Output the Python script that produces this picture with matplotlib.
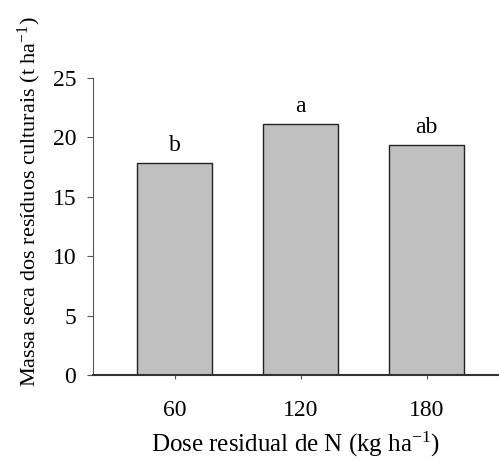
import matplotlib
matplotlib.use("Agg")
import matplotlib.pyplot as plt

## residual N dose vs dry mass of crop residues
doses = ["60", "120", "180"]
massa = [17.85, 21.12, 19.34]
letras = ["b", "a", "ab"]

plt.rcParams['font.family'] = 'Liberation Serif'
plt.rcParams['mathtext.fontset'] = 'custom'
plt.rcParams['mathtext.rm'] = 'Liberation Serif'
plt.rcParams['mathtext.it'] = 'Liberation Serif'

fs = 17

fig = plt.figure(figsize=(4.99, 4.61), dpi=100)
ax = fig.add_axes([0.1864, 0.1855, 0.8136, 0.646])

pos = list(range(len(doses)))
bars = ax.bar(pos, massa, width=0.595, color="#c0c0c0",
              edgecolor="#222222", linewidth=1.0)

for x, v, l in zip(pos, massa, letras):
    ax.annotate(l, (x, v), xytext=(0, 5), textcoords="offset points",
                ha="center", va="bottom", fontsize=fs)

ax.set_xlim(-0.648, 2.574)
ax.set_ylim(0, 25)
ax.set_yticks([0, 5, 10, 15, 20, 25])
ax.set_xticks(pos)
ax.set_xticklabels(doses)

for s in ["top", "right"]:
    ax.spines[s].set_visible(False)
ax.spines["left"].set_color("#555555")
ax.spines["bottom"].set_color("#333333")
ax.spines["bottom"].set_linewidth(1.5)

ax.tick_params(axis="y", length=4, pad=8, labelsize=fs, color="#555555")
ax.tick_params(axis="x", length=3, pad=15, labelsize=fs, color="#555555")

ax.set_ylabel("Massa seca dos resíduos culturais (t ha$^{-1}$)", fontsize=16)
ax.yaxis.set_label_coords(-0.122, 0.582)
ax.set_xlabel("Dose residual de N (kg ha$^{-1}$)", fontsize=18, labelpad=6)

fig.savefig("out.png", dpi=100)
